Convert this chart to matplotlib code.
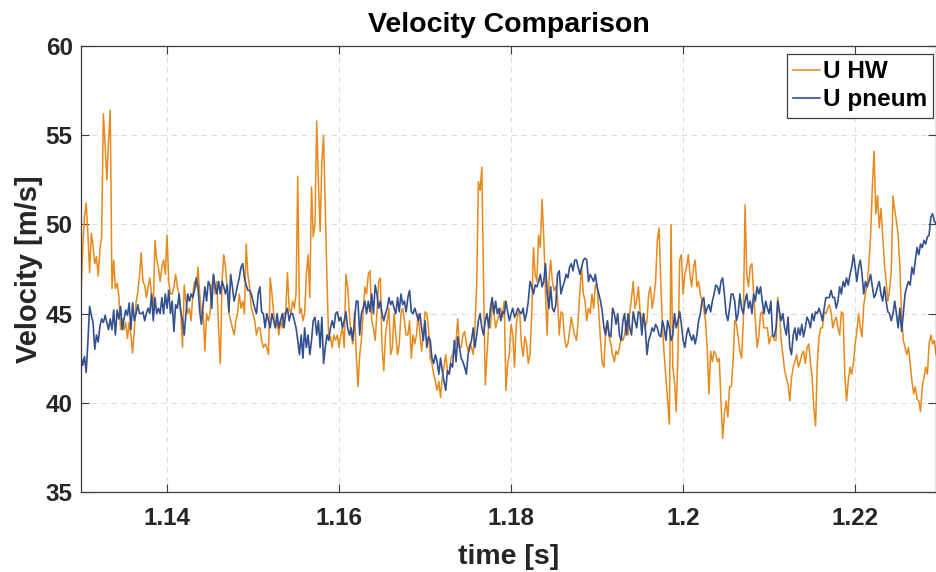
import numpy as np
import matplotlib
matplotlib.use('Agg')
import matplotlib.pyplot as plt

plt.rcParams['font.family'] = ['Liberation Sans', 'DejaVu Sans']
plt.rcParams['font.weight'] = 'bold'

# sampling of both signals (s)
t0 = 1.13
dt = 0.0002

# hot-wire velocity [m/s]
u_hw = [
    46.0, 48.6, 50.4, 51.2, 49.5, 47.3, 49.5, 48.8, 47.8, 48.2,
    47.1, 48.6, 49.3, 56.2, 54.5, 52.5, 54.7, 56.4, 46.4, 48.0,
    46.4, 46.7, 46.0, 44.1, 44.7, 44.1, 44.5, 43.6, 44.5, 43.8,
    42.8, 44.1, 45.6, 46.2, 47.1, 48.4, 46.8, 46.6, 45.9, 46.5,
    47.0, 46.1, 45.3, 49.1, 48.0, 47.6, 46.8, 47.6, 48.0, 47.2,
    49.4, 46.8, 46.1, 46.1, 46.5, 47.2, 46.5, 46.1, 45.0, 43.1,
    46.6, 45.7, 45.0, 45.3, 44.6, 46.1, 46.8, 46.5, 47.6, 46.1,
    45.0, 45.1, 42.9, 45.0, 44.6, 45.0, 46.5, 47.2, 46.1, 46.8,
    44.0, 42.2, 46.8, 48.3, 47.6, 46.5, 45.0, 44.6, 44.2, 43.8,
    44.6, 45.0, 46.1, 45.3, 45.7, 45.0, 48.9, 47.2, 46.5, 45.3,
    45.0, 44.6, 43.8, 44.2, 44.2, 43.5, 43.1, 43.3, 43.1, 42.7,
    47.0, 46.1, 45.0, 44.2, 44.6, 43.8, 44.6, 44.2, 45.0, 45.1,
    47.3, 45.3, 45.0, 45.7, 45.3, 46.1, 52.7, 45.0, 45.3, 44.6,
    45.0, 47.2, 48.3, 45.9, 52.1, 49.3, 50.0, 55.8, 52.4, 49.6,
    53.5, 55.0, 50.9, 46.8, 43.5, 43.7, 43.1, 43.8, 43.5, 43.8,
    43.1, 43.8, 44.2, 43.1, 47.2, 46.5, 45.0, 43.8, 43.3, 45.1,
    42.7, 40.9, 42.7, 43.5, 45.0, 46.5, 46.1, 47.2, 47.4, 44.6,
    44.2, 43.5, 45.0, 46.8, 47.0, 43.1, 41.8, 43.8, 44.6, 45.3,
    42.7, 43.1, 45.0, 43.8, 42.7, 43.3, 45.0, 45.3, 44.6, 43.8,
    43.8, 44.6, 42.5, 43.8, 43.3, 43.8, 45.0, 43.8, 42.9, 43.8,
    45.1, 45.0, 44.2, 42.5, 42.2, 41.6, 41.2, 40.7, 41.2, 40.3,
    41.4, 42.0, 42.7, 41.8, 41.6, 42.5, 42.7, 43.1, 43.5, 44.7,
    43.1, 43.1, 43.8, 44.0, 43.3, 42.9, 43.3, 43.1, 42.7, 44.2,
    46.6, 52.4, 51.9, 53.2, 46.8, 41.0, 42.7, 44.4, 44.2, 45.7,
    45.0, 44.2, 44.6, 45.0, 45.3, 44.8, 45.7, 40.7, 42.2, 42.7,
    44.4, 43.8, 42.0, 44.4, 45.0, 45.1, 43.3, 42.6, 43.7, 43.3,
    42.2, 42.7, 45.0, 48.7, 47.2, 46.8, 49.4, 48.7, 51.4, 49.3,
    46.1, 43.8, 46.8, 48.0, 46.8, 46.3, 46.5, 45.9, 43.8, 45.1,
    45.0, 43.7, 43.1, 43.3, 44.0, 44.8, 44.2, 43.8, 43.5, 44.6,
    46.3, 47.6, 46.1, 45.7, 44.6, 45.3, 45.0, 46.1, 45.3, 46.6,
    46.6, 45.0, 43.5, 42.2, 42.0, 44.2, 44.6, 43.7, 43.3, 42.7,
    42.3, 42.9, 42.7, 43.1, 43.7, 43.5, 43.8, 44.6, 43.8, 45.0,
    45.9, 46.8, 45.3, 45.7, 46.5, 45.1, 44.6, 45.0, 44.2, 44.6,
    46.1, 46.5, 45.3, 45.9, 46.8, 49.1, 49.8, 46.8, 44.2, 42.7,
    41.4, 40.1, 38.8, 50.0, 42.0, 41.2, 39.5, 42.7, 48.0, 48.3,
    46.1, 47.2, 47.6, 48.3, 47.2, 46.5, 47.6, 48.0, 46.5, 46.8,
    46.1, 45.7, 45.3, 44.6, 43.1, 40.5, 42.9, 42.3, 42.9, 42.7,
    42.3, 42.5, 40.1, 38.0, 39.4, 40.1, 39.2, 40.9, 40.9, 42.3,
    44.6, 44.4, 43.7, 42.9, 42.5, 44.6, 51.1, 47.2, 46.5, 47.6,
    47.8, 46.1, 44.6, 43.1, 43.7, 45.0, 45.1, 44.2, 44.2, 44.2,
    43.3, 43.7, 43.8, 43.5, 43.5, 45.9, 45.1, 43.5, 42.7, 41.8,
    41.4, 41.0, 40.1, 41.4, 42.0, 42.3, 42.7, 42.0, 42.3, 42.7,
    42.9, 42.2, 43.1, 43.3, 42.3, 41.4, 39.7, 38.7, 42.2, 43.7,
    44.2, 44.2, 45.1, 45.0, 45.3, 45.5, 45.1, 44.2, 44.6, 44.8,
    44.2, 43.8, 45.1, 45.0, 41.6, 40.1, 41.2, 42.0, 41.6, 42.2,
    43.3, 44.0, 45.0, 44.2, 43.7, 45.5, 46.1, 46.6, 47.8, 49.4,
    52.1, 54.1, 50.6, 51.6, 49.8, 50.9, 49.4, 47.8, 46.8, 45.7,
    46.3, 47.4, 51.6, 50.8, 50.2, 49.4, 47.6, 45.0, 43.5, 43.1,
    42.7, 43.1, 42.2, 41.2, 40.5, 40.9, 40.2, 40.1, 39.5, 40.9,
    41.4, 42.0, 41.6, 43.3, 43.8, 43.3, 43.5, 42.7, 42.5, 42.8,
]

# pneumatic probe velocity [m/s]
u_pneum = [
    42.6, 42.1, 42.6, 41.7, 43.4, 45.4, 44.9, 44.5, 43.0, 43.8,
    43.4, 44.3, 44.7, 44.5, 44.9, 44.5, 44.1, 44.7, 44.1, 45.2,
    43.8, 45.2, 44.7, 45.4, 44.1, 44.7, 45.2, 44.9, 45.6, 44.1,
    45.6, 44.6, 45.0, 45.5, 45.0, 45.0, 45.1, 44.6, 45.0, 45.3,
    45.0, 46.1, 44.6, 45.9, 45.0, 45.3, 45.0, 45.9, 45.0, 46.1,
    45.3, 46.3, 45.0, 45.7, 44.0, 45.5, 45.3, 46.1, 45.1, 44.6,
    43.8, 45.0, 46.1, 45.7, 46.1, 45.9, 46.3, 47.0, 46.5, 45.1,
    44.4, 45.5, 46.5, 45.7, 46.8, 46.6, 45.3, 47.2, 46.5, 46.1,
    46.8, 46.1, 46.8, 46.5, 46.1, 46.6, 45.1, 47.2, 46.5, 45.7,
    46.1, 46.6, 47.0, 47.6, 47.8, 47.0, 46.6, 46.3, 46.3, 46.1,
    45.7, 45.3, 45.0, 46.1, 46.5, 45.1, 45.0, 44.2, 45.0, 44.6,
    44.2, 45.0, 44.6, 44.2, 45.0, 44.2, 44.6, 45.0, 44.2, 45.0,
    45.3, 44.6, 45.0, 45.0, 44.6, 44.2, 43.5, 42.7, 43.8, 42.5,
    44.2, 43.1, 43.8, 42.7, 43.5, 44.6, 44.8, 43.8, 44.6, 43.1,
    44.8, 42.2, 43.1, 43.8, 43.5, 44.2, 44.6, 44.2, 45.0, 45.1,
    44.6, 44.8, 44.2, 44.6, 45.1, 44.2, 43.8, 44.2, 43.5, 44.6,
    45.7, 45.7, 43.8, 45.0, 45.3, 45.7, 45.0, 45.7, 45.1, 46.1,
    45.0, 46.6, 46.1, 45.3, 45.7, 45.0, 44.6, 45.0, 45.3, 45.9,
    45.5, 45.7, 45.3, 45.0, 45.9, 45.1, 46.1, 45.5, 45.7, 45.1,
    45.9, 46.3, 45.1, 45.0, 45.3, 45.0, 44.6, 45.0, 44.2, 43.5,
    44.6, 43.1, 43.7, 43.5, 42.5, 42.2, 42.7, 42.3, 41.6, 42.5,
    41.8, 41.2, 40.7, 41.8, 41.6, 42.2, 42.0, 43.5, 42.3, 43.7,
    43.1, 42.5, 42.3, 42.0, 41.6, 42.7, 43.1, 43.5, 44.2, 43.1,
    43.8, 44.6, 45.0, 44.2, 43.8, 44.6, 45.0, 44.2, 45.3, 45.9,
    45.0, 45.7, 45.0, 45.3, 44.6, 45.1, 45.0, 45.7, 45.1, 44.6,
    45.0, 45.3, 44.8, 45.0, 45.3, 45.1, 45.0, 45.3, 44.6, 45.0,
    45.7, 46.8, 46.5, 46.1, 46.6, 46.5, 46.8, 47.2, 46.5, 46.8,
    47.8, 46.1, 45.3, 46.5, 45.3, 45.1, 45.5, 47.2, 47.4, 46.1,
    46.5, 46.8, 47.2, 47.0, 47.6, 47.8, 47.4, 48.0, 48.0, 47.6,
    47.2, 47.6, 48.0, 48.1, 48.0, 46.8, 47.2, 47.0, 46.8, 47.2,
    46.5, 46.1, 45.7, 45.1, 44.2, 43.8, 44.6, 43.8, 43.7, 45.3,
    45.0, 44.4, 45.0, 43.8, 43.5, 44.6, 45.0, 43.8, 45.0, 44.2,
    43.8, 45.1, 44.6, 44.2, 45.1, 45.0, 43.8, 45.0, 44.2, 42.7,
    43.5, 43.8, 44.2, 44.0, 44.4, 44.2, 43.8, 43.7, 44.6, 44.2,
    43.5, 44.6, 44.2, 43.5, 43.8, 45.0, 44.2, 44.6, 45.1, 44.4,
    43.5, 43.1, 43.8, 44.2, 43.8, 43.5, 43.8, 43.3, 43.8, 44.6,
    45.0, 45.7, 45.9, 45.0, 45.3, 45.5, 45.1, 45.7, 46.1, 46.6,
    46.5, 46.1, 46.8, 47.0, 46.1, 45.0, 44.6, 45.3, 46.1, 46.1,
    45.7, 44.6, 45.0, 46.1, 45.3, 45.0, 45.7, 46.1, 45.3, 45.7,
    45.0, 46.1, 45.7, 46.5, 46.1, 46.5, 45.7, 45.0, 45.7, 45.3,
    45.0, 45.7, 43.8, 43.7, 44.2, 45.7, 45.1, 44.6, 45.0, 44.2,
    43.8, 44.8, 43.1, 42.7, 43.8, 44.2, 43.5, 44.2, 43.8, 44.4,
    43.7, 44.2, 44.8, 44.6, 44.2, 45.0, 44.6, 45.1, 45.0, 45.3,
    45.0, 44.6, 45.3, 45.9, 45.9, 45.9, 46.3, 45.9, 45.9, 45.3,
    45.7, 46.5, 46.1, 46.8, 46.5, 47.0, 46.6, 47.2, 47.6, 48.3,
    47.6, 46.8, 47.6, 48.0, 47.2, 46.1, 46.8, 46.5, 46.8, 47.2,
    46.5, 45.9, 46.1, 46.5, 46.8, 46.1, 45.7, 46.5, 45.7, 45.1,
    45.0, 44.6, 45.0, 45.7, 45.0, 44.2, 45.3, 44.0, 45.0, 46.1,
    46.5, 46.8, 46.6, 47.6, 47.2, 48.0, 48.7, 48.3, 48.9, 48.7,
    49.1, 48.9, 49.3, 49.4, 50.4, 50.6, 50.2, 50.0, 50.0, 49.8,
]

x_ticks = [1.14, 1.16, 1.18, 1.2, 1.22]
x_tick_labels = ['1.14', '1.16', '1.18', '1.2', '1.22']
y_ticks = [35, 40, 45, 50, 55, 60]

t_hw = t0 + dt * np.arange(len(u_hw))
t_pneum = t0 + dt * np.arange(len(u_pneum))

fig = plt.figure(figsize=(9.37, 5.72), dpi=100)
ax = fig.add_axes([81 / 937, 1 - 492 / 572, 855 / 937, 446 / 572])

ax.plot(t_hw, u_hw, color='#E8891C', linewidth=1.1, label='U HW')
ax.plot(t_pneum, u_pneum, color='#33508F', linewidth=1.2, label='U pneum')

ax.set_xlim(1.13, 1.2294)
ax.set_ylim(35, 60)
ax.set_xticks(x_ticks)
ax.set_xticklabels(x_tick_labels)
ax.set_yticks(y_ticks)

dark = '#262626'
ax.grid(True, linestyle=(0, (5, 4)), color='#dedede', linewidth=0.8)
ax.set_axisbelow(True)
for s in ax.spines.values():
    s.set_color('#3c3c3c')
    s.set_linewidth(0.9)
ax.tick_params(direction='in', top=True, right=True, length=6, width=0.8,
               color='#3c3c3c', labelcolor=dark, labelsize=17.5)
ax.tick_params(axis='x', pad=11)
ax.tick_params(axis='y', pad=6)

ax.set_title('Velocity Comparison', fontsize=20.5, fontweight='bold', pad=10)
ax.set_xlabel('time [s]', fontsize=20.5, fontweight='bold', color=dark, labelpad=10)
ax.set_ylabel('Velocity [m/s]', fontsize=21, fontweight='bold', color=dark, labelpad=2)

leg = ax.legend(loc='upper right', bbox_to_anchor=(0.9965, 0.982), fontsize=17.5,
                handlelength=1.1, handletextpad=0.12, borderpad=0.25,
                labelspacing=0.22, fancybox=False, framealpha=1, borderaxespad=0)
leg.get_frame().set_edgecolor('#3c3c3c')
leg.get_frame().set_linewidth(0.9)

fig.savefig('out.png', dpi=100)
